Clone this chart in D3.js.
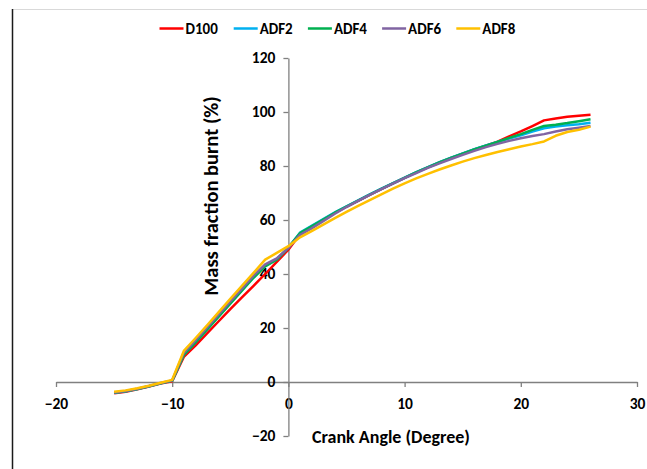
<!DOCTYPE html>
<html>
<head>
<meta charset="utf-8">
<script src="https://cdn.jsdelivr.net/npm/d3@7"></script>
<style>
  html, body { margin: 0; padding: 0; background: #fff; }
  svg { display: block; }
  text { font-family: Carlito, Calibri, Lato, "Open Sans", sans-serif; }
</style>
</head>
<body>
<svg id="chart" width="647" height="469"></svg>
<script>
const crankAngle = [-15,-14,-13,-12,-11,-10,-9,-8,-7,-6,-5,-4,-3,-2,-1,0,1,2,3,4,5,6,7,8,9,10,11,12,13,14,15,16,17,18,19,20,21,22,23,24,25,26];

const D100 = [-4.2,-3.6,-2.7,-1.7,-0.6,0.3,9.3,13.5,18.0,22.5,27.0,31.3,35.6,40.0,44.5,49.0,54.8,57.6,60.1,62.6,64.9,67.1,69.3,71.4,73.6,75.6,77.6,79.5,81.3,83.0,84.6,86.1,87.5,89.0,91.0,92.8,94.8,96.9,97.6,98.2,98.6,99.0];
const ADF2 = [-4.0,-3.4,-2.6,-1.6,-0.5,0.5,10.2,14.8,19.6,24.4,29.2,34.0,38.8,43.0,45.5,49.8,55.3,57.8,60.3,62.8,65.1,67.3,69.5,71.6,73.7,75.7,77.7,79.6,81.4,83.1,84.7,86.2,87.6,88.9,90.2,91.4,92.8,94.0,94.6,95.1,95.5,96.0];
const ADF4 = [-4.0,-3.4,-2.6,-1.6,-0.5,0.5,10.0,14.6,19.4,24.2,29.0,33.8,38.6,42.8,45.3,49.8,55.2,57.7,60.2,62.7,65.0,67.2,69.4,71.5,73.6,75.6,77.6,79.5,81.3,83.0,84.6,86.1,87.5,88.9,90.4,91.8,93.4,94.8,95.3,95.9,96.6,97.3];
const ADF6 = [-3.9,-3.3,-2.5,-1.5,-0.4,0.6,10.8,15.4,20.2,25.0,29.8,34.6,39.4,43.6,45.8,49.7,54.5,56.9,59.6,62.3,64.8,67.1,69.3,71.4,73.5,75.5,77.4,79.3,81.0,82.6,84.1,85.6,87.0,88.2,89.3,90.3,91.1,91.8,92.8,93.6,94.2,94.8];
const ADF8 = [-3.6,-3.1,-2.3,-1.4,-0.3,0.8,11.5,16.2,21.0,25.9,30.8,35.6,40.4,45.3,47.8,50.3,53.6,55.9,58.3,60.7,63.0,65.2,67.4,69.5,71.6,73.6,75.4,77.1,78.7,80.2,81.6,82.9,84.1,85.2,86.2,87.2,88.1,89.1,91.2,92.6,93.4,94.6];

const seriesNames = ["D100","ADF2","ADF4","ADF6","ADF8"];
const seriesValues = [D100, ADF2, ADF4, ADF6, ADF8];
const seriesColors = ["#FF0000","#00B0F0","#00B050","#8064A2","#FFC000"];

const xTicks = [-20,-10,0,10,20,30];
const yTicks = [-20,0,20,40,60,80,100,120];

const svg = d3.select("#chart");

// frame lines
svg.append("line").attr("x1",12).attr("x2",647).attr("y1",9.5).attr("y2",9.5)
  .attr("stroke","#d9d9d9").attr("stroke-width",1);
svg.append("line").attr("x1",12.5).attr("x2",12.5).attr("y1",9).attr("y2",469)
  .attr("stroke","#1a1a1a").attr("stroke-width",1.5);

const x = d3.scaleLinear().domain([-20,30]).range([56,637]);
const y = d3.scaleLinear().domain([-20,120]).range([436,58]);

const axisColor = "#808080";

const xAxis = svg.append("g")
  .attr("transform",`translate(0,${y(0)})`)
  .call(d3.axisBottom(x).tickValues(xTicks).tickSize(5).tickSizeOuter(0).tickPadding(11).tickFormat(d3.format("d")));
const yAxis = svg.append("g")
  .attr("transform",`translate(${x(0)},0)`)
  .call(d3.axisLeft(y).tickValues(yTicks).tickSize(5).tickSizeOuter(0).tickPadding(8).tickFormat(d3.format("d")));

[xAxis, yAxis].forEach(g => {
  g.selectAll("path.domain").attr("stroke",axisColor).attr("stroke-width",1.3);
  g.selectAll(".tick line").attr("stroke",axisColor).attr("stroke-width",1.3);
  g.selectAll(".tick text").attr("fill","#000").attr("font-size",15.5).attr("font-weight","bold")
   .style("font-family","Carlito, Calibri, Lato, sans-serif");
});

const line = d3.line()
  .x((d,i) => x(crankAngle[i]))
  .y(d => y(d));

seriesValues.forEach((vals, k) => {
  svg.append("path")
    .datum(vals)
    .attr("fill","none")
    .attr("stroke",seriesColors[k])
    .attr("stroke-width",2.5)
    .attr("stroke-linejoin","round")
    .attr("d", line);
});

// axis titles
svg.append("text")
  .attr("transform",`translate(218,${196}) rotate(-90)`)
  .attr("text-anchor","middle")
  .attr("font-size",20.5).attr("font-weight","bold").attr("fill","#000")
  .text("Mass fraction burnt (%)");

svg.append("text")
  .attr("x",391).attr("y",443)
  .attr("text-anchor","middle")
  .attr("font-size",18).attr("font-weight","bold").attr("fill","#000")
  .text("Crank Angle (Degree)");

// legend
const legend = svg.append("g");
seriesNames.forEach((name,k) => {
  const lx = 159.5 + k*74.2;
  legend.append("line").attr("x1",lx).attr("x2",lx+24).attr("y1",28.5).attr("y2",28.5)
    .attr("stroke",seriesColors[k]).attr("stroke-width",2.5);
  legend.append("text").attr("x",lx+26).attr("y",33.5)
    .attr("font-size",15).attr("font-weight","bold").attr("fill","#000")
    .text(name);
});
</script>
</body>
</html>
